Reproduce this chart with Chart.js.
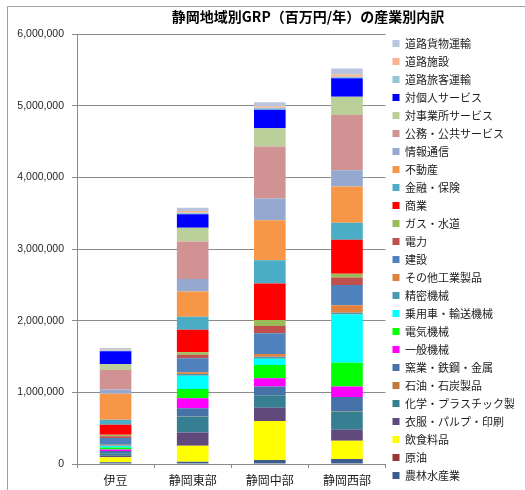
<!DOCTYPE html>
<html>
<head>
<meta charset="utf-8">
<script src="https://cdn.jsdelivr.net/npm/chart.js@4.4.1/dist/chart.umd.min.js"></script>
<style>
  html, body { margin: 0; padding: 0; background: #fff; }
  canvas { display: block; }
</style>
</head>
<body>
<canvas id="chart" width="525" height="490"></canvas>
<script>
// Regions (x categories)
const regions = ["伊豆", "静岡東部", "静岡中部", "静岡西部"];

// Industries, bottom of the stack first
const industries = [
    "農林水産業", "原油", "飲食料品", "衣服・パルプ・印刷", "化学・プラスチック製品",
    "石油・石炭製品", "窯業・鉄鋼・金属", "一般機械", "電気機械", "乗用車・輸送機械",
    "精密機械", "その他工業製品", "建設", "電力", "ガス・水道",
    "商業", "金融・保険", "不動産", "情報通信", "公務・公共サービス",
    "対事業所サービス", "対個人サービス", "道路旅客運輸", "道路施設", "道路貨物運輸"
];

// GRP (million yen / year), same order as industries
const izu = [24000, 1000, 70000, 21000, 35000, 4000, 28000, 18000, 28000, 21000, 7000, 10000, 97000,
    24000, 20000, 139000, 70000, 362000, 61000, 273000, 84000, 177000, 14000, 10000, 22000];
const tobu = [32000, 1000, 223000, 185000, 223000, 3000, 111000, 139000, 131000, 185000, 24000, 22000, 195000,
    52000, 32000, 316000, 181000, 352000, 173000, 523000, 195000, 187000, 22000, 24000, 46000];
const chubu = [55000, 1000, 543000, 185000, 177000, 3000, 116000, 117000, 185000, 88000, 28000, 37000, 288000,
    102000, 84000, 510000, 325000, 557000, 302000, 728000, 255000, 256000, 28000, 22000, 56000];
const seibu = [70000, 1000, 255000, 153000, 255000, 5000, 195000, 149000, 330000, 672000, 24000, 106000, 284000,
    102000, 52000, 477000, 237000, 505000, 228000, 770000, 255000, 256000, 22000, 33000, 84000];

// Segment colours, same order as industries
const colors = [
    "#3c5b8f", "#953735", "#ffff00", "#604a7b", "#367f92",
    "#c27a3a", "#4672aa", "#ff00ff", "#00ff00", "#00ffff",
    "#4a9bb1", "#e0823d", "#4f81bd", "#c0504d", "#9bbb59",
    "#ff0000", "#4bacc6", "#f79646", "#95a9d0", "#d09292",
    "#bbcf98", "#0000ff", "#93c6d6", "#fab38f", "#b9c4df"
];

const yTicks = [0, 1000000, 2000000, 3000000, 4000000, 5000000, 6000000];

const titleText = "静岡地域別GRP（百万円/年）の産業別内訳";
const jpFont = '"Noto Sans CJK JP", sans-serif';
const gridColor = "#8a8a8a";

const datasets = industries.map((name, i) => ({
    label: name,
    data: [izu[i], tobu[i], chubu[i], seibu[i]],
    backgroundColor: colors[i],
    borderWidth: 0,
    categoryPercentage: 1,
    barPercentage: 0.41,
}));

// Title and outer frame drawn on the canvas
const decorations = {
    id: "decorations",
    beforeDraw(chart) {
        const ctx = chart.ctx;
        ctx.save();
        ctx.strokeStyle = "#a0a0a0";
        ctx.lineWidth = 1;
        ctx.beginPath();
        ctx.moveTo(7.5, 490);
        ctx.lineTo(7.5, 6.5);
        ctx.lineTo(525, 6.5);
        ctx.stroke();
        ctx.restore();
    },
    afterDraw(chart) {
        const ctx = chart.ctx;
        ctx.save();
        ctx.font = "bold 14px " + jpFont;
        ctx.fillStyle = "#000";
        ctx.textAlign = "center";
        ctx.textBaseline = "middle";
        ctx.fillText(titleText, 308, 17);
        ctx.restore();
    },
};

new Chart(document.getElementById("chart"), {
    type: "bar",
    data: { labels: regions, datasets: datasets },
    plugins: [decorations],
    options: {
        responsive: false,
        animation: false,
        layout: { padding: { top: 29, right: 11, bottom: 0, left: 0 } },
        plugins: {
            tooltip: { enabled: false },
            title: { display: false },
            // empty spacer above the plot only, so the legend keeps its full height
            subtitle: {
                display: true,
                text: "",
                fullSize: false,
                padding: 0,
                font: { size: 5, lineHeight: 1 },
            },
            legend: {
                position: "right",
                reverse: true,
                labels: {
                    boxWidth: 7,
                    boxHeight: 7,
                    padding: 7,
                    color: "#1a1a1a",
                    font: { size: 11, family: jpFont },
                },
            },
        },
        scales: {
            x: {
                stacked: true,
                grid: { drawOnChartArea: false, offset: true, tickLength: 4, color: gridColor },
                border: { color: gridColor },
                ticks: { color: "#1a1a1a", padding: 5, font: { size: 12, family: jpFont } },
                afterFit: (s) => { s.height = 26; },
            },
            y: {
                stacked: true,
                min: 0,
                max: 6000000,
                afterBuildTicks: (s) => { s.ticks = yTicks.map((v) => ({ value: v })); },
                grid: { color: gridColor, tickLength: 5 },
                border: { color: gridColor },
                ticks: {
                    color: "#262626",
                    padding: 8,
                    font: { size: 10.5, family: '"Liberation Sans", Arial, sans-serif' },
                    callback: (v) => Number(v).toLocaleString("en-US"),
                },
                afterFit: (s) => { s.width = 77; },
            },
        },
    },
});
</script>
</body>
</html>
